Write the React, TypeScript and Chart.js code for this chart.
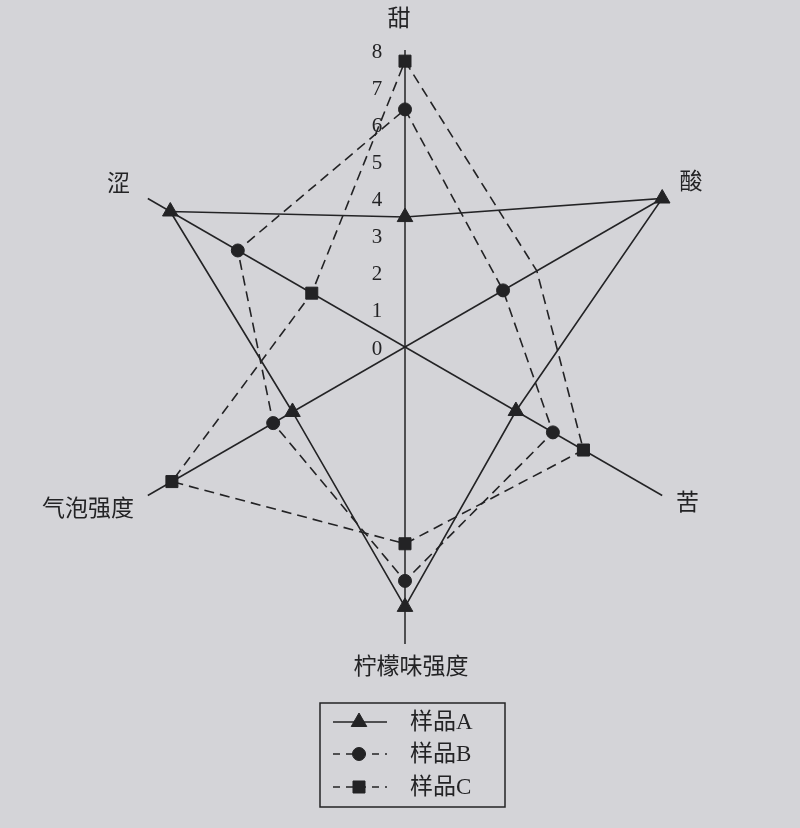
import React, { useEffect, useRef } from "react";
import { Chart, registerables } from "chart.js";
import { drawPoint } from "chart.js/helpers";

Chart.register(...registerables);

const categories = ["甜", "酸", "苦", "柠檬味强度", "气泡强度", "涩"];
const seriesNames = ["样品A", "样品B", "样品C"];
const sampleA = [3.5, 8.0, 3.45, 7.0, 3.5, 7.3];
const sampleB = [6.4, 3.05, 4.6, 6.3, 4.1, 5.2];
const sampleC = [7.7, 4.1, 5.55, 5.3, 7.25, 2.9];
const tickValues = [0, 1, 2, 3, 4, 5, 6, 7, 8];

const INK = "#232325";
const BG = "#d4d4d8";
const CJK = '"Liberation Serif", "Noto Sans CJK SC", serif';

const legendRadii = [9, 6.5, 8.5];

const labelPlugin = {
  id: "customLabels",
  afterDraw(chart: any) {
    const ctx = chart.ctx;
    const scale = chart.scales.r;
    ctx.save();
    ctx.fillStyle = INK;
    // tick labels along the top axis
    ctx.font = '21px "Liberation Serif", serif';
    ctx.textAlign = "center";
    ctx.textBaseline = "middle";
    tickValues.forEach((v) => {
      const p = scale.getPointPositionForValue(0, v);
      ctx.fillText(String(v), p.x - 28, p.y + 2);
    });
    // point labels
    ctx.font = "23px " + CJK;
    const offsets = [
      { d: 26, align: "center", dy: -4, dx: -6 },
      { d: 20, align: "left", dy: -6, dx: 0 },
      { d: 16, align: "left", dy: 0, dx: 0 },
      { d: 22, align: "center", dy: 2, dx: 6 },
      { d: 16, align: "right", dy: 6, dx: 0 },
      { d: 16, align: "right", dy: -6, dx: -4 },
    ];
    categories.forEach((lab, i) => {
      const o = offsets[i];
      const p = scale.getPointPosition(i, scale.drawingArea + o.d);
      ctx.textAlign = o.align;
      ctx.textBaseline = "middle";
      ctx.fillText(lab, p.x + o.dx, p.y + o.dy);
    });
    // legend box
    const bx = 320, by = 703, bw = 185, bh = 104;
    ctx.strokeStyle = INK;
    ctx.lineWidth = 1.5;
    ctx.setLineDash([]);
    ctx.strokeRect(bx, by, bw, bh);
    const rows = [722, 754, 787];
    chart.data.datasets.forEach((ds: any, i: number) => {
      const y = rows[i];
      ctx.strokeStyle = ds.borderColor;
      ctx.lineWidth = ds.borderWidth;
      ctx.setLineDash(i === 0 ? [] : [7, 6]);
      ctx.beginPath();
      ctx.moveTo(333, y);
      ctx.lineTo(387, y);
      ctx.stroke();
      ctx.setLineDash([]);
      ctx.fillStyle = ds.pointBackgroundColor;
      ctx.strokeStyle = ds.pointBorderColor;
      ctx.lineWidth = 1;
      drawPoint(
        ctx,
        { pointStyle: ds.pointStyle, rotation: 0, borderWidth: 1, radius: legendRadii[i] },
        359,
        y
      );
      ctx.fillStyle = INK;
      ctx.font = "23px " + CJK;
      ctx.textAlign = "left";
      ctx.textBaseline = "middle";
      ctx.fillText(ds.label, 410, y + 1);
    });
    ctx.restore();
  },
};

export default function App() {
  const ref = useRef<HTMLCanvasElement | null>(null);
  useEffect(() => {
    if (!ref.current) return;
    const common = {
      borderColor: INK,
      borderWidth: 1.6,
      fill: false,
      pointBackgroundColor: INK,
      pointBorderColor: INK,
      pointBorderWidth: 1,
    };
    const chart = new Chart(ref.current, {
      type: "radar",
      data: {
        labels: categories,
        datasets: [
          {
            ...common,
            label: seriesNames[0],
            data: sampleA,
            borderDash: [],
            pointStyle: "triangle",
            pointRadius: 9,
          },
          {
            ...common,
            label: seriesNames[1],
            data: sampleB,
            borderDash: [10, 6],
            pointStyle: "circle",
            pointRadius: 6.5,
          },
          {
            ...common,
            label: seriesNames[2],
            data: sampleC,
            borderDash: [10, 6],
            pointStyle: "rect",
            pointRadius: [8.5, 0, 8.5, 8.5, 8.5, 8.5],
          },
        ],
      },
      options: {
        animation: false,
        responsive: false,
        devicePixelRatio: 1,
        layout: { padding: { left: 108, right: 98, top: 50, bottom: 184 } },
        plugins: { legend: { display: false }, tooltip: { enabled: false } },
        elements: { line: { tension: 0 } },
        scales: {
          r: {
            min: 0,
            max: 8,
            ticks: { display: false, stepSize: 1 },
            grid: { display: false },
            angleLines: { display: true, color: INK, lineWidth: 1.5 },
            pointLabels: { display: false },
          },
        },
      },
      plugins: [labelPlugin],
    } as any);
    return () => chart.destroy();
  }, []);
  return (
    <div
      style={{
        position: "fixed",
        left: 0,
        top: 0,
        width: 800,
        height: 828,
        background: BG,
      }}
    >
      <canvas ref={ref} width={800} height={828} style={{ display: "block" }} />
    </div>
  );
}
